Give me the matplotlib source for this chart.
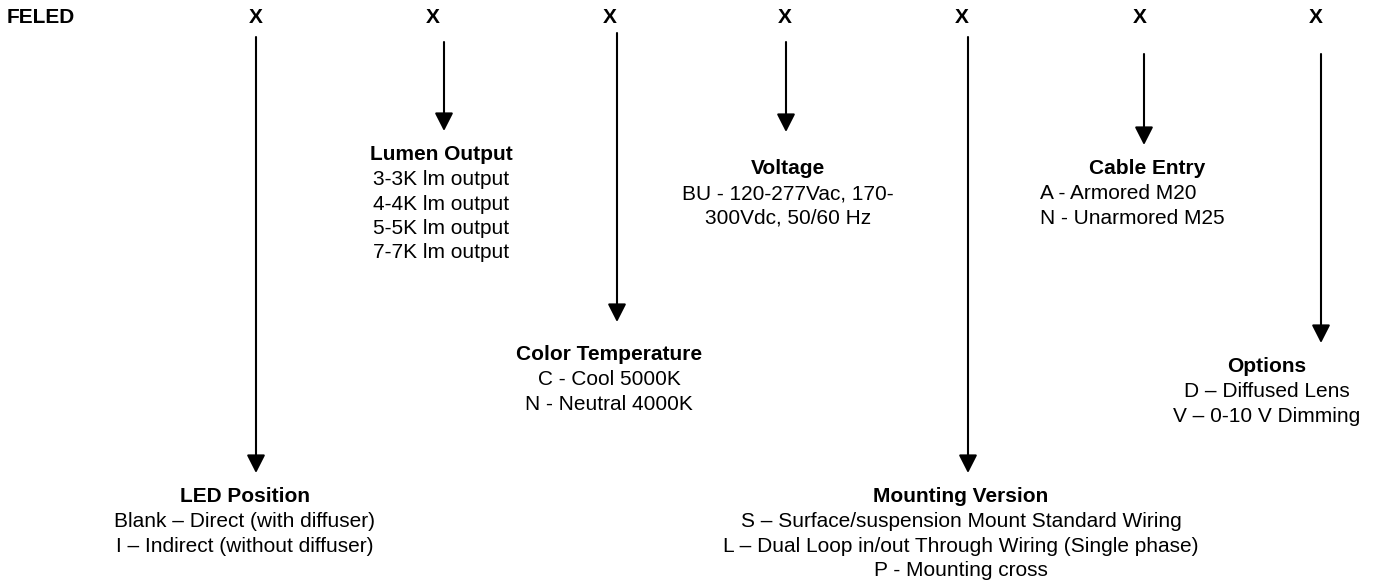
import matplotlib.pyplot as plt

# ordering code fields
code_prefix = 'FELED'
field_titles = ['LED Position', 'Lumen Output', 'Color Temperature', 'Voltage',
                'Mounting Version', 'Cable Entry', 'Options']
field_options = [
    ['Blank \u2013 Direct (with diffuser)', 'I \u2013 Indirect (without diffuser)'],
    ['3-3K lm output', '4-4K lm output', '5-5K lm output', '7-7K lm output'],
    ['C - Cool 5000K', 'N - Neutral 4000K'],
    ['BU - 120-277Vac, 170-', '300Vdc, 50/60 Hz'],
    ['S \u2013 Surface/suspension Mount Standard Wiring',
     'L \u2013 Dual Loop in/out Through Wiring (Single phase)',
     'P - Mounting cross'],
    ['A - Armored M20', 'N - Unarmored M25'],
    ['D \u2013 Diffused Lens', 'V \u2013 0-10 V Dimming'],
]

# layout (pixel coords, y grows downward)
x_marks = [256, 433, 610, 785, 962, 1140, 1316]
arrow_x = [256, 444, 617, 786, 968, 1144, 1321]
arrow_top = [37, 42, 33, 42, 37, 54, 54]
arrow_tip = [473, 131, 322, 132, 473, 145, 343]
title_x = [245, 441, 609, 788, 961, 1147, 1267]
title_y = [497, 155, 355, 169, 497, 169, 367]
body_x = [245, 441, 609, 788, 961, 1040, 1267]
body_ha = ['center', 'center', 'center', 'center', 'center', 'left', 'center']
line_step = 24.5

fig = plt.figure(figsize=(13.76, 5.8), dpi=100, facecolor='white')
ax = fig.add_axes([0, 0, 1, 1])
ax.set_xlim(0, 1376)
ax.set_ylim(580, 0)
ax.axis('off')

font = ['Liberation Sans', 'DejaVu Sans']

ax.text(7, 17.5, code_prefix, fontsize=15, fontweight='bold', family=font,
        ha='left', va='center')

for i in range(len(field_titles)):
    ax.text(x_marks[i], 17.5, 'X', fontsize=15, fontweight='bold', family=font,
            ha='center', va='center')
    # arrow from the code letter down to its description
    ax.annotate('', xy=(arrow_x[i], arrow_tip[i]), xytext=(arrow_x[i], arrow_top[i]),
                arrowprops=dict(arrowstyle='-|>,head_length=0.55,head_width=0.28',
                                mutation_scale=20, lw=1.5, color='black',
                                shrinkA=0, shrinkB=0))
    ax.text(title_x[i], title_y[i], field_titles[i], fontsize=15, fontweight='bold',
            family=font, ha='center', va='center')
    for j, opt in enumerate(field_options[i]):
        ax.text(body_x[i], title_y[i] + (j + 1) * line_step, opt, fontsize=15,
                family=font, ha=body_ha[i], va='center')

fig.savefig('out.png', dpi=100, facecolor='white')
